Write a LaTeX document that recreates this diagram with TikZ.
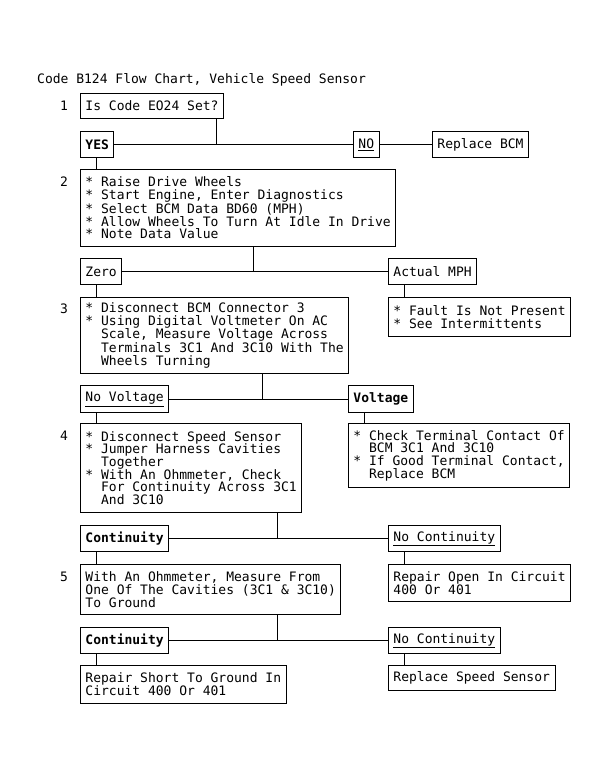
\documentclass[tikz,border=0pt]{standalone}
\usepackage{fontspec}
\setmainfont{DejaVu Sans Mono}
\usepackage{tikz}
\usetikzlibrary{positioning}

\newcommand{\ind}{\hphantom{**}}

\begin{document}
\begin{tikzpicture}[x=1pt,y=-1pt,
        every node/.style={font=\fontsize{13}{12.7}\selectfont},
        stepbox/.style={draw,line width=0.9pt,anchor=north west,align=left,
            inner xsep=5pt,inner ysep=2pt},
        tag/.style={stepbox,minimum height=26pt},
        num/.style={inner sep=0pt}]

        \useasboundingbox (0,0) rectangle (615,779);

        % Title
        \node[anchor=west,inner sep=0pt] (title) at (37,80)
            {Code B124 Flow Chart, Vehicle Speed Sensor};

        % Step 1
        \node[num] (n1) at (64,106) {1};
        \node[stepbox,minimum height=25pt] (q1) at (80,93) {Is Code EO24 Set?};
        \node[tag] (yes) at (80,131) {\textbf{YES}};
        \node[tag] (no) at (353,131) {\underline{NO}};
        \node[tag] (bcm) at (432,131) {Replace BCM};

        % Step 2
        \node[num] (n2) at (64,182) {2};
        \node[stepbox,minimum height=77pt] (s2) at (80,169)
            {* Raise Drive Wheels\\
             * Start Engine, Enter Diagnostics\\
             * Select BCM Data BD60 (MPH)\\
             * Allow Wheels To Turn At Idle In Drive\\
             * Note Data Value};
        \node[tag] (zero) at (80,258) {Zero};
        \node[tag] (mph) at (388,258) {Actual MPH};
        \node[stepbox,minimum height=39pt] (fault) at (388,297)
            {* Fault Is Not Present\\
             * See Intermittents};

        % Step 3
        \node[num] (n3) at (64,309) {3};
        \node[stepbox,minimum height=76pt] (s3) at (80,297)
            {* Disconnect BCM Connector 3\\
             * Using Digital Voltmeter On AC\\
             \ind Scale, Measure Voltage Across\\
             \ind Terminals 3C1 And 3C10 With The\\
             \ind Wheels Turning};
        \node[tag,minimum height=27pt] (novolt) at (80,385) {\underline{No Voltage}};
        \node[tag,minimum height=27pt] (volt) at (348,385) {\textbf{Voltage}};
        \node[stepbox,minimum height=64pt] (check) at (348,423)
            {* Check Terminal Contact Of\\
             \ind BCM 3C1 And 3C10\\
             * If Good Terminal Contact,\\
             \ind Replace BCM};

        % Step 4
        \node[num] (n4) at (64,436) {4};
        \node[stepbox,minimum height=89pt] (s4) at (80,423)
            {* Disconnect Speed Sensor\\
             * Jumper Harness Cavities\\
             \ind Together\\
             * With An Ohmmeter, Check\\
             \ind For Continuity Across 3C1\\
             \ind And 3C10};
        \node[tag] (cont) at (80,525) {\textbf{Continuity}};
        \node[tag] (nocont) at (388,525) {\underline{No Continuity}};
        \node[stepbox,minimum height=37pt] (open) at (388,564)
            {Repair Open In Circuit\\
             400 Or 401};

        % Step 5
        \node[num] (n5) at (64,577) {5};
        \node[stepbox,minimum height=50pt] (s5) at (80,564)
            {With An Ohmmeter, Measure From\\
             One Of The Cavities (3C1 \& 3C10)\\
             To Ground};
        \node[tag] (cont2) at (80,627) {\textbf{Continuity}};
        \node[tag] (nocont2) at (388,627) {\underline{No Continuity}};
        \node[stepbox,minimum height=38pt] (short) at (80,665)
            {Repair Short To Ground In\\
             Circuit 400 Or 401};
        \node[stepbox,minimum height=25pt] (sensor) at (388,665)
            {Replace Speed Sensor};

        % Junction columns
        \coordinate (j1) at (216,0);
        \coordinate (j2) at (253,0);
        \coordinate (j3) at (262,0);
        \coordinate (j4) at (277,0);

        % Connectors
        \begin{scope}[line width=0.9pt]
            \draw (yes.east) -- (no.west);
            \draw (no.east) -- (bcm.west);
            \draw (q1.south -| j1) -- (yes.east -| j1);
            \draw (zero.east) -- (mph.west);
            \draw (s2.south -| j2) -- (zero.east -| j2);
            \draw (novolt.east) -- (volt.west);
            \draw (s3.south -| j3) -- (novolt.east -| j3);
            \draw (cont.east) -- (nocont.west);
            \draw (s4.south -| j4) -- (cont.east -| j4);
            \draw (cont2.east) -- (nocont2.west);
            \draw (s5.south -| j4) -- (cont2.east -| j4);

            % Branches down
            \foreach \a/\b in {yes/s2,zero/s3,mph/fault,novolt/s4,volt/check,
                               cont/s5,nocont/open,cont2/short,nocont2/sensor}
                \draw ([xshift=16pt]\a.south west) -- ([xshift=16pt]\b.north west);
        \end{scope}

\end{tikzpicture}
\end{document}
